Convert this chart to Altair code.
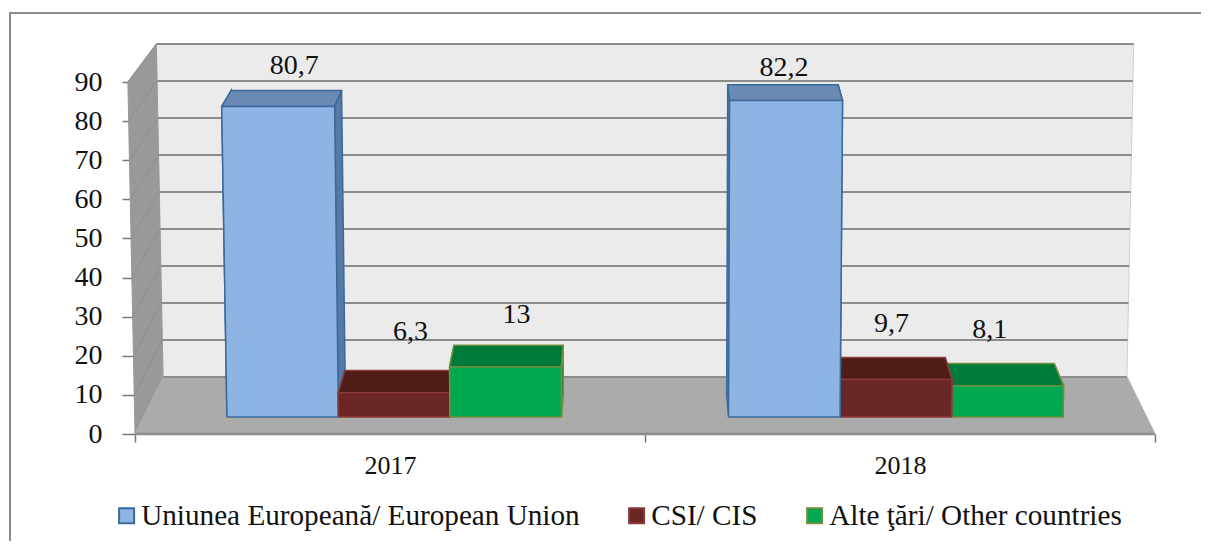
import altair as alt
import pandas as pd

YEARS = ["2017", "2018"]
SERIES = ["Uniunea Europeană/ European Union", "CSI/ CIS", "Alte ţări/ Other countries"]
VALUES = {
    SERIES[0]: [80.7, 82.2],
    SERIES[1]: [6.3, 9.7],
    SERIES[2]: [13, 8.1],
}
TICKS = [0, 10, 20, 30, 40, 50, 60, 70, 80, 90]

# colours per series: front, top, side, edge
FRONT = ["#8DB4E3", "#6B2726", "#00A84F"]
TOPC = ["#6A8AB3", "#4F1C18", "#007A38"]
SIDE = ["#557AA6", "#4F1C18", "#007A38"]
EDGE = ["#3A6A9C", "#8A3A38", "#6F8F3C"]
FONT = "Liberation Serif"
INK = "#111111"

# oblique perspective of the 3-D box, in chart units
W, H = 1020, 352
HALF = W / 2
K_DEPTH, K_TALL = 0.055, 0.014
BAR_DEPTH = (0.3, 0.7)
BAR_W = 111.5 / 0.9835 / HALF  # in half-widths of the floor
GROUP_CENTER = [0.5, 1.5]


def project(u, v, d):
    """u: 0..2 across the front floor edge, v: value, d: depth 0..1."""
    s = (1 - K_DEPTH * d) * (1 + K_TALL * v / 90)
    x = 1 + (u - 1) * s
    front = v
    back = (57 + 3.7 * v) / (H / 90)
    return x, front + (back - front) * d


def poly(corners):
    rows = []
    for i, (u, v, d) in enumerate(corners + corners[:1]):
        x, y = project(u, v, d)
        rows.append({"x": x, "y": y, "i": i})
    return rows


xs = alt.Scale(domain=[0, 2], nice=False, zero=False)
ys = alt.Scale(domain=[0, 90], nice=False, zero=False)
x_axis = alt.Axis(
    title=None,
    values=[0, 0.5, 1, 1.5, 2],
    labelExpr=f"datum.value==0.5?'{YEARS[0]}':datum.value==1.5?'{YEARS[1]}':''",
    tickOpacity={"condition": {"test": "datum.value%1!=0", "value": 0}, "value": 1},
    tickColor="#777777",
    tickWidth=1.5,
    tickSize=8,
    domain=False,
    grid=False,
    labelFont=FONT,
    labelFontSize=26,
    labelColor=INK,
    labelPadding=10,
    labelAngle=0,
)
y_axis = alt.Axis(
    title=None,
    values=TICKS,
    tickColor="#777777",
    tickWidth=1.5,
    tickSize=13,
    domain=False,
    grid=False,
    labelFont=FONT,
    labelFontSize=28,
    labelColor=INK,
    labelPadding=20,
)
X = alt.X("x:Q", scale=xs, axis=x_axis)
Y = alt.Y("y:Q", scale=ys, axis=y_axis)


def shape(rows, fill, stroke, sw=1.5):
    return alt.Chart(pd.DataFrame(rows)).mark_line(
        fill=fill, stroke=stroke, strokeWidth=sw, clip=False, interpolate="linear"
    ).encode(x=X, y=Y, order=alt.Order("i:Q"))


def seg(a, b, color, sw):
    return shape(poly([a, b])[:2], "transparent", color, sw)


layers = []
# walls and floor
layers.append(shape(poly([(0, 0, 1), (2, 0, 1), (2, 90, 1), (0, 90, 1)]), "#EBEBEB", "#D0D0D0", 1))
layers.append(shape(poly([(0, 0, 0), (0, 0, 1), (0, 90, 1), (0, 90, 0)]), "#999999", "#999999", 1))
layers.append(shape(poly([(0, 0, 0), (2, 0, 0), (2, 0, 1), (0, 0, 1)]), "#ABABAB", "#ABABAB", 1))
for t in TICKS:
    layers.append(seg((0, t, 1), (2, t, 1), "#8C8C8C", 2))
    if t:
        layers.append(seg((0, t, 0), (0, t, 1), "#8E8E8E", 1))
layers.append(seg((0, 0, 0), (2, 0, 0), "#8C8C8C", 2.5))
layers.append(seg((2, 0, 0), (2, 0, 1), "#B5B5B5", 1))

# bars: each group is drawn from the outside towards the centre
label_layers = []
NUDGE = {
    (0, 0): (8, -24), (0, 1): (11, -38), (0, 2): (8, -30),
    (1, 0): (1, -17), (1, 1): (1, -34), (1, 2): (-10, -34),
}
for g, c in enumerate(GROUP_CENTER):
    order = [0, 1, 2] if g == 0 else [2, 1, 0]
    for s in order:
        v = VALUES[SERIES[s]][g]
        u0 = c + (s - 1.5) * BAR_W
        u1 = u0 + BAR_W
        d0, d1 = BAR_DEPTH
        layers.append(shape(poly([(u0, 0, d0), (u0, 0, d1), (u0, v, d1), (u0, v, d0)]), SIDE[s], EDGE[s]))
        layers.append(shape(poly([(u1, 0, d0), (u1, 0, d1), (u1, v, d1), (u1, v, d0)]), SIDE[s], EDGE[s]))
        layers.append(shape(poly([(u0, v, d0), (u1, v, d0), (u1, v, d1), (u0, v, d1)]), TOPC[s], EDGE[s]))
        layers.append(shape(poly([(u0, 0, d0), (u1, 0, d0), (u1, v, d0), (u0, v, d0)]), FRONT[s], EDGE[s]))
        x, y = project((u0 + u1) / 2, v, d1)
        dx, dy = NUDGE[(g, s)]
        label_layers.append(
            alt.Chart(pd.DataFrame([{"x": x, "y": y, "t": str(v).replace(".", ",")}]))
            .mark_text(font=FONT, fontSize=28, color=INK, dx=dx, dy=dy, clip=False)
            .encode(x=X, y=Y, text="t:N")
        )

# legend swatches: the real legend of the chart
legend_df = pd.DataFrame({"series": SERIES, "x": [1.0] * 3, "y": [45.0] * 3})
legend_layer = alt.Chart(legend_df).mark_point(filled=True, shape="square", opacity=0).encode(
    x=X,
    y=Y,
    fill=alt.Fill(
        "series:N",
        scale=alt.Scale(domain=SERIES, range=FRONT),
        legend=alt.Legend(
            title=None,
            orient="none",
            legendX=-23,
            legendY=419,
            padding=0,
            direction="horizontal",
            columns=3,
            columnPadding=42,
            symbolType="square",
            symbolSize=225,
            symbolOpacity=1,
            symbolStrokeWidth=2,
            labelFont=FONT,
            labelFontSize=29.2,
            labelColor=INK,
            labelLimit=600,
            labelOffset=0,
        ),
    ),
    stroke=alt.Stroke("series:N", scale=alt.Scale(domain=SERIES, range=EDGE), legend=None),
)

PX = 2 / W  # one pixel in x units
PY = 90 / H  # one pixel in y units
frame_rows = [
    {"x": -125 * PX, "y": -115 * PY, "i": 0},
    {"x": -125 * PX, "y": 69 * PY + 90, "i": 1},
    {"x": (W + 46) * PX, "y": 69 * PY + 90, "i": 2},
]
frame = alt.Chart(pd.DataFrame(frame_rows)).mark_line(
    color="#8C8C8C", strokeWidth=2, clip=False
).encode(x=X, y=Y, order=alt.Order("i:Q"))

chart = alt.layer(frame, *layers, *label_layers, legend_layer).resolve_scale(
    fill="independent", stroke="independent"
).properties(
    width=W,
    height=H,
    autosize=alt.AutoSizeParams(type="none"),
    padding={"left": 127, "top": 74, "right": 46, "bottom": 107},
    background="white",
).configure_view(stroke=None)

chart.save("out.html", embed_options={"renderer": "svg", "actions": False})
